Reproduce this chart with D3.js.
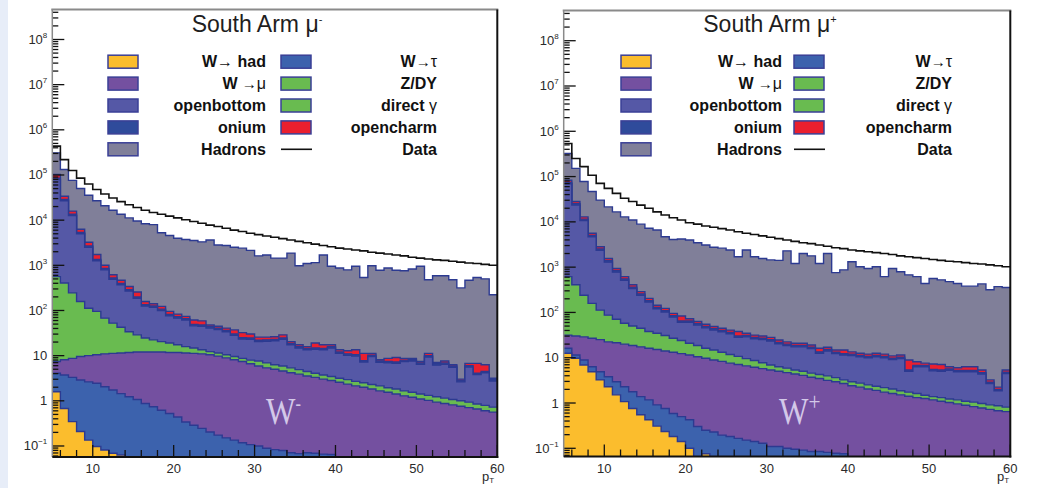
<!DOCTYPE html>
<html><head><meta charset="utf-8">
<script src="https://cdn.jsdelivr.net/npm/d3@7"></script>
<style>body{margin:0;background:#fff}svg{display:block}</style>
</head><body>
<svg id="chart" width="1054" height="488"></svg>
<script>
// lower edges of the 1 GeV pT bins
const binLow = [5,6,7,8,9,10,11,12,13,14,15,16,17,18,19,20,21,22,23,24,25,26,27,28,29,30,31,32,33,34,35,36,37,38,39,40,41,42,43,44,45,46,47,48,49,50,51,52,53,54,55,56,57,58,59];
const yTickExps = [-1,0,1,2,3,4,5,6,7,8];
const xTickLabels = [10,20,30,40,50,60];

// ---- South Arm mu- : log10 of the stacked (cumulative) histogram tops ----
const dataMinus = [5.64,5.34,5.10,4.93,4.80,4.68,4.58,4.49,4.41,4.34, 4.28,4.22,4.17,4.13,4.09,4.05,4.01,3.97,3.93,3.89, 3.86,3.82,3.78,3.75,3.71,3.68,3.65,3.62,3.59,3.56, 3.53,3.50,3.47,3.44,3.41,3.38,3.36,3.34,3.32,3.29, 3.27,3.25,3.23,3.21,3.18,3.16,3.14,3.12,3.11,3.09, 3.07,3.05,3.04,3.02,3.00];
const hadronsMinus = [5.49,5.12,4.88,4.70,4.55,4.43,4.32,4.22,4.13,4.05, 3.98,3.92,3.90,3.72,3.66,3.60,3.57,3.55,3.52,3.56, 3.45,3.44,3.40,3.38,3.33,3.21,3.23,3.16,3.16,3.27, 2.99,3.04,3.06,3.23,2.98,2.94,2.90,2.98,2.73,2.99, 2.89,2.94,2.89,2.88,2.92,2.98,2.68,2.77,2.77,2.68, 2.50,2.67,2.73,2.70,2.35];
const opencharmMinus = [5.01,4.53,4.20,3.80,3.51,3.24,3.00,2.79,2.67,2.53, 2.41,2.20,2.15,2.09,1.98,1.92,1.87,1.79,1.77,1.68, 1.65,1.61,1.57,1.51,1.48,1.41,1.41,1.42,1.46,1.31, 1.24,1.20,1.28,1.24,1.24,1.13,1.11,1.13,1.05,1.05, 0.91,0.94,0.96,0.94,0.94,0.87,1.05,0.85,0.88,0.80, 0.48,0.83,0.83,0.80,0.50];
const oniumMinus = [4.93,4.46,4.13,3.73,3.43,3.13,2.93,2.72,2.60,2.46, 2.30,2.13,2.10,2.03,1.91,1.86,1.82,1.69,1.68,1.64, 1.61,1.56,1.48,1.40,1.39,1.34,1.35,1.36,1.39,1.27, 1.20,1.16,1.17,1.16,1.20,1.08,1.04,1.02,0.89,1.01, 0.88,0.87,0.86,0.90,0.91,0.84,1.00,0.82,0.84,0.77, 0.45,0.78,0.61,0.65,0.47];
const openbottomMinus = [4.90,4.43,4.10,3.70,3.40,3.10,2.90,2.69,2.57,2.43, 2.27,2.10,2.07,2.00,1.88,1.83,1.79,1.66,1.65,1.61, 1.58,1.53,1.45,1.37,1.36,1.31,1.32,1.33,1.36,1.24, 1.17,1.13,1.14,1.13,1.17,1.05,1.01,0.99,0.86,0.98, 0.85,0.84,0.83,0.87,0.88,0.81,0.97,0.79,0.81,0.74, 0.42,0.75,0.58,0.62,0.44];
const directGammaMinus = [2.75,2.61,2.39,2.20,2.05,1.98,1.83,1.72,1.63,1.53, 1.46,1.39,1.35,1.31,1.28,1.24,1.20,1.17,1.13,1.09, 1.06,1.02,0.98,0.94,0.90,0.88,0.84,0.80,0.77,0.73, 0.69,0.65,0.61,0.57,0.54,0.50,0.47,0.43,0.40,0.36, 0.33,0.29,0.26,0.22,0.19,0.15,0.12,0.09,0.06,0.03, 0.00,-0.03,-0.07,-0.10,-0.14];
const zdyMinus = [0.91,0.95,0.98,1.02,1.04,1.06,1.08,1.09,1.10,1.11, 1.12,1.12,1.12,1.12,1.11,1.11,1.10,1.09,1.08,1.06, 1.03,0.99,0.95,0.91,0.86,0.81,0.77,0.74,0.70,0.66, 0.63,0.59,0.56,0.52,0.49,0.45,0.41,0.37,0.34,0.30, 0.26,0.23,0.19,0.15,0.12,0.08,0.05,0.01,-0.02,-0.05, -0.08,-0.11,-0.14,-0.18,-0.21];
const wmuMinus = [0.87,0.91,0.94,0.98,1.00,1.02,1.04,1.05,1.06,1.07, 1.08,1.08,1.08,1.08,1.07,1.07,1.06,1.05,1.04,1.02, 0.99,0.95,0.91,0.87,0.82,0.77,0.73,0.70,0.66,0.62, 0.59,0.55,0.52,0.48,0.45,0.41,0.37,0.33,0.30,0.26, 0.22,0.19,0.15,0.11,0.08,0.04,0.01,-0.03,-0.06,-0.09, -0.12,-0.15,-0.18,-0.22,-0.25];
const wtauMinus = [0.61,0.57,0.52,0.46,0.42,0.39,0.31,0.24,0.16,0.09, 0.03,-0.06,-0.13,-0.21,-0.28,-0.36,-0.47,-0.54,-0.61,-0.69, -0.76,-0.82,-0.87,-0.93,-0.97,-1.00,-1.05,-1.08,-1.10,-1.15, -1.17,-1.15,-1.16,-1.18,-1.19,-1.40,-1.40,-1.40,-1.40,-1.40, -1.40,-1.40,-1.40,-1.40,-1.40,-1.40,-1.40,-1.40,-1.40,-1.40, -1.40,-1.40,-1.40,-1.40,-1.40];
const whadMinus = [0.20,-0.17,-0.46,-0.68,-0.87,-1.01,-1.09,-1.16,-1.20,-2, -2,-2,-2,-2,-2,-2,-2,-2,-2,-2, -2,-2,-2,-2,-2,-2,-2,-2,-2,-2, -2,-2,-2,-2,-2,-2,-2,-2,-2,-2, -2,-2,-2,-2,-2,-2,-2,-2,-2,-2, -2,-2,-2,-2,-2];

// ---- South Arm mu+ ----
const dataPlus = [5.73,5.40,5.22,5.03,4.85,4.74,4.63,4.52,4.45,4.37, 4.30,4.22,4.15,4.09,4.04,3.98,3.95,3.91,3.88,3.85, 3.82,3.78,3.75,3.72,3.69,3.66,3.63,3.60,3.57,3.54, 3.52,3.49,3.46,3.43,3.41,3.38,3.36,3.34,3.32,3.30, 3.28,3.25,3.23,3.21,3.19,3.17,3.15,3.13,3.12,3.10, 3.08,3.07,3.05,3.03,3.01];
const hadronsPlus = [5.51,5.18,4.89,4.67,4.48,4.33,4.22,4.11,4.04,3.95, 3.86,3.82,3.67,3.61,3.62,3.60,3.54,3.49,3.44,3.42, 3.38,3.23,3.38,3.23,3.19,3.16,3.15,3.36,3.08,3.30, 3.25,3.08,3.30,2.88,2.94,3.12,3.01,2.97,3.01,2.79, 2.97,2.90,2.83,2.79,2.64,2.75,2.72,2.68,2.64,2.58, 2.58,2.63,2.50,2.57,2.55];
const opencharmPlus = [4.92,4.45,4.11,3.75,3.45,3.19,2.97,2.79,2.61,2.46, 2.31,2.16,2.09,1.98,1.92,1.86,1.80,1.74,1.69,1.65, 1.61,1.58,1.54,1.50,1.48,1.45,1.39,1.35,1.32,1.32, 1.28,1.21,1.23,1.17,1.17,1.13,1.10,1.08,1.10,1.08, 1.04,1.06,0.95,0.91,0.88,0.86,0.85,0.80,0.78,0.80, 0.80,0.73,0.51,0.35,0.73];
const oniumPlus = [4.87,4.40,4.06,3.70,3.40,3.14,2.92,2.74,2.56,2.41, 2.26,2.11,2.04,1.93,1.81,1.81,1.75,1.69,1.64,1.60, 1.56,1.48,1.49,1.45,1.43,1.40,1.34,1.30,1.27,1.27, 1.23,1.13,1.18,1.12,1.09,1.08,1.05,1.03,1.05,1.03, 0.99,1.01,0.73,0.83,0.83,0.74,0.73,0.75,0.72,0.72, 0.72,0.67,0.46,0.30,0.68];
const openbottomPlus = [4.84,4.37,4.03,3.67,3.37,3.11,2.89,2.71,2.53,2.38, 2.23,2.08,2.01,1.90,1.78,1.78,1.72,1.66,1.61,1.57, 1.53,1.45,1.46,1.42,1.40,1.37,1.31,1.27,1.24,1.24, 1.20,1.10,1.15,1.09,1.06,1.05,1.02,1.00,1.02,1.00, 0.96,0.98,0.70,0.80,0.80,0.71,0.70,0.72,0.69,0.69, 0.69,0.64,0.43,0.27,0.65];
const directGammaPlus = [2.79,2.61,2.38,2.20,2.05,1.94,1.85,1.76,1.70,1.65, 1.58,1.54,1.49,1.43,1.38,1.32,1.27,1.21,1.17,1.12, 1.07,1.03,0.98,0.94,0.89,0.84,0.80,0.77,0.73,0.70, 0.66,0.63,0.60,0.56,0.51,0.47,0.44,0.40,0.37,0.34, 0.31,0.27,0.24,0.21,0.17,0.14,0.12,0.09,0.07,0.04, 0.02,-0.01,-0.04,-0.06,-0.09];
const zdyPlus = [1.53,1.51,1.49,1.46,1.43,1.38,1.36,1.33,1.30,1.27, 1.24,1.21,1.18,1.15,1.12,1.09,1.05,1.02,0.98,0.95, 0.91,0.88,0.85,0.82,0.79,0.76,0.73,0.70,0.67,0.64, 0.60,0.57,0.53,0.50,0.46,0.41,0.38,0.34,0.31,0.27, 0.24,0.21,0.18,0.15,0.13,0.10,0.07,0.04,0.01,-0.02, -0.05,-0.08,-0.11,-0.14,-0.16];
const wmuPlus = [1.50,1.48,1.46,1.43,1.40,1.35,1.33,1.30,1.27,1.24, 1.21,1.18,1.15,1.12,1.09,1.06,1.02,0.99,0.95,0.92, 0.88,0.85,0.82,0.79,0.76,0.73,0.70,0.67,0.64,0.61, 0.57,0.54,0.50,0.47,0.43,0.38,0.35,0.31,0.28,0.24, 0.21,0.18,0.15,0.12,0.10,0.07,0.04,0.01,-0.02,-0.05, -0.08,-0.11,-0.14,-0.17,-0.19];
const wtauPlus = [1.21,1.06,0.95,0.80,0.69,0.58,0.47,0.36,0.25,0.14, 0.07,-0.04,-0.12,-0.23,-0.30,-0.37,-0.52,-0.60,-0.64,-0.71, -0.74,-0.78,-0.82,-0.85,-0.89,-0.96,-0.96,-1.00,-1.02,-1.04, -1.07,-1.07,-1.09,-1.11,-1.12,-1.40,-1.40,-1.40,-1.40,-1.40, -1.40,-1.40,-1.40,-1.40,-1.40,-1.40,-1.40,-1.40,-1.40,-1.40, -1.40,-1.40,-1.40,-1.40,-1.40];
const whadPlus = [1.10,0.99,0.84,0.69,0.51,0.36,0.18,0.03,-0.12,-0.26, -0.37,-0.51,-0.63,-0.74,-0.85,-1.00,-1.40,-1.12,-2,-2, -2,-2,-2,-2,-2,-2,-2,-2,-2,-2, -2,-2,-2,-2,-2,-2,-2,-2,-2,-2, -2,-2,-2,-2,-2,-2,-2,-2,-2,-2, -2,-2,-2,-2,-2];

// stacking order (bottom to top)
const layers = [
  {key:'whad', color:'#fbbd2d', outline:true},
  {key:'wtau', color:'#3c62ad', outline:true},
  {key:'wmu', color:'#7450a0', outline:true},
  {key:'zdy', color:'#69bb50', outline:false},
  {key:'dirgam', color:'#69bb50', outline:true},
  {key:'openbottom', color:'#5558a6', outline:true},
  {key:'onium', color:'#2f4b9b', outline:true},
  {key:'opencharm', color:'#ea1f2e', outline:true},
  {key:'hadrons', color:'#807f99', outline:true}
];
const legendCol1 = [
  {parts:[['W',1],['\u2192',0,16],[' had',1]], type:'box', color:'#fbbd2d'},
  {parts:[['W',1],[' \u2192',0,15],['\u03bc',0]], type:'box', color:'#7450a0'},
  {parts:[['openbottom',1]], type:'box', color:'#5558a6'},
  {parts:[['onium',1]], type:'box', color:'#2f4b9b'},
  {parts:[['Hadrons',1]], type:'box', color:'#807f99'}
];
const legendCol2 = [
  {parts:[['W',1],['\u2192',0,15],['\u03c4',0]], type:'box', color:'#3c62ad'},
  {parts:[['Z/DY',1]], type:'box', color:'#69bb50'},
  {parts:[['direct ',1],['\u03b3',0]], type:'box', color:'#69bb50'},
  {parts:[['opencharm',1]], type:'box', color:'#ea1f2e'},
  {parts:[['Data',1]], type:'line'}
];

const svg = d3.select('#chart');
svg.append('rect').attr('width',1054).attr('height',488).attr('fill','#ffffff');
svg.append('rect').attr('x',0).attr('y',0).attr('width',8).attr('height',488).attr('fill','#e7edf8');

function drawPanel(cfg) {
  const {id,x0,x1,y0,y1,logMin,logMax} = cfg;
  const x = d3.scaleLinear().domain([5,60]).range([x0,x1]);
  const y = d3.scaleLog().domain([Math.pow(10,logMin), Math.pow(10,logMax)]).range([y1,y0]);
  const clipId = 'clip'+id;
  svg.append('clipPath').attr('id',clipId).append('rect')
    .attr('x',x0).attr('y',y0).attr('width',x1-x0).attr('height',y1-y0);
  const plot = svg.append('g').attr('clip-path',`url(#${clipId})`);
  const yy = v => Math.min(y1+6, y(v));
  const pts = arr => {
    const p = binLow.map((b,i)=>[b, Math.pow(10, arr[i])]);
    p.push([60, Math.pow(10, arr[arr.length-1])]);
    return p;
  };
  const area = d3.area().curve(d3.curveStepAfter).x(d=>x(d[0])).y0(y1+6).y1(d=>yy(d[1]));
  const line = d3.line().curve(d3.curveStepAfter).x(d=>x(d[0])).y(d=>yy(d[1]));
  layers.slice().reverse().forEach(L => {
    const p = pts(cfg.stack[L.key]);
    plot.append('path').attr('d', area(p)).attr('fill', L.color);
    if (L.outline) plot.append('path').attr('d', line(p)).attr('fill','none')
      .attr('stroke','#2c3a91').attr('stroke-width',1.4);
  });
  plot.append('path').attr('d', line(pts(cfg.data))).attr('fill','none')
    .attr('stroke','#111').attr('stroke-width',1.6);

  // ticks
  const tk = svg.append('g').attr('stroke','#111').attr('stroke-width',1.3);
  yTickExps.forEach(e => {
    const yv = y(Math.pow(10,e));
    tk.append('line').attr('x1',x0).attr('x2',x0+12).attr('y1',yv).attr('y2',yv);
  });
  for (let e = Math.floor(logMin); e < Math.ceil(logMax); e++) {
    [2,3,4,5,6,7,8,9].forEach(m => {
      const v = m*Math.pow(10,e);
      if (Math.log10(v) <= logMin || Math.log10(v) >= logMax) return;
      const yv = y(v);
      tk.append('line').attr('x1',x0).attr('x2',x0+6).attr('y1',yv).attr('y2',yv);
    });
  }
  xTickLabels.forEach(t => {
    tk.append('line').attr('x1',x(t)).attr('x2',x(t)).attr('y1',y1).attr('y2',y1-12);
  });
  for (let t = 6; t < 60; t += 2) {
    if (t % 10 === 0) continue;
    tk.append('line').attr('x1',x(t)).attr('x2',x(t)).attr('y1',y1).attr('y2',y1-7);
  }

  // frame
  svg.append('line').attr('x1',x0-1).attr('x2',x1+1).attr('y1',y0).attr('y2',y0).attr('stroke','#8a8a8a').attr('stroke-width',2);
  svg.append('line').attr('x1',x0).attr('x2',x0).attr('y1',y0).attr('y2',y1).attr('stroke','#8a8a8a').attr('stroke-width',1.5);
  svg.append('line').attr('x1',x1).attr('x2',x1).attr('y1',y0).attr('y2',y1+1).attr('stroke','#111').attr('stroke-width',2);
  svg.append('line').attr('x1',x0).attr('x2',x1+1).attr('y1',y1).attr('y2',y1).attr('stroke','#111').attr('stroke-width',2);

  // tick labels
  const lab = svg.append('g').attr('font-family','"Liberation Sans", Arial, sans-serif').attr('fill','#2a2a2a');
  yTickExps.forEach(e => {
    const yv = y(Math.pow(10,e));
    const t = lab.append('text').attr('x',x0-5).attr('y',yv+4.5).attr('text-anchor','end').attr('font-size',13);
    if (e === 0) t.text('1');
    else if (e === 1) t.text('10');
    else {
      t.append('tspan').text('10');
      t.append('tspan').attr('dy',-6).attr('font-size',8).text(String(e).replace('-','\u2212'));
    }
  });
  xTickLabels.forEach(v => {
    lab.append('text').attr('x',x(v)).attr('y',y1+16).attr('text-anchor','middle').attr('font-size',13).text(v);
  });
  const pt = lab.append('text').attr('x',cfg.pX).attr('y',481).attr('font-size',13);
  pt.append('tspan').text('p');
  pt.append('tspan').attr('dy',2).attr('font-size',8).text('T');

  // title
  const tt = svg.append('text').attr('x',cfg.titleX).attr('y',32).attr('text-anchor','middle')
    .attr('font-family','"Liberation Sans", Arial, sans-serif').attr('font-size',23).attr('fill','#1e1e1e');
  tt.append('tspan').text('South Arm \u03bc');
  tt.append('tspan').attr('dy',-9).attr('font-size',11).text(cfg.charge);

  // legend
  const lg = svg.append('g').attr('font-family','"Liberation Sans", Arial, sans-serif').attr('fill','#111');
  const rows = [61.7, 83.6, 105.5, 127.4, 149.3];
  const drawCol = (entries, bx, lx) => {
    entries.forEach((en, i) => {
      const cy = rows[i];
      if (en.type === 'box') {
        lg.append('rect').attr('x',bx).attr('y',cy-6.5).attr('width',30).attr('height',13)
          .attr('fill',en.color).attr('stroke','#3a3f96').attr('stroke-width',1.5);
      } else {
        lg.append('line').attr('x1',bx).attr('x2',bx+31).attr('y1',cy).attr('y2',cy)
          .attr('stroke','#111').attr('stroke-width',1.6);
      }
      const t = lg.append('text').attr('x',lx).attr('y',cy+5.5).attr('text-anchor','end').attr('font-size',16);
      en.parts.forEach(p => {
        const s = t.append('tspan').text(p[0]).attr('font-weight', p[1] ? 'bold' : 'normal');
        if (p[2]) s.attr('font-size', p[2]);
      });
    });
  };
  drawCol(legendCol1, cfg.box1, cfg.lab1);
  drawCol(legendCol2, cfg.box2, cfg.lab2);

  // W annotation
  const wg = svg.append('g').attr('transform',`translate(${cfg.wX},424) scale(0.82,1)`);
  const wt = wg.append('text').attr('font-family','"Liberation Serif", "DejaVu Serif", serif')
    .attr('font-size',38).attr('fill','#d3c8e8');
  wt.append('tspan').text('W');
  wt.append('tspan').attr('dy',-14).attr('font-size',cfg.charge==='+'?26:20).text(cfg.charge);
}

drawPanel({id:'m', x0:52.3, x1:497.3, y0:9.5, y1:457, logMin:-1.244, logMax:8.664,
  stack:{whad:whadMinus, wtau:wtauMinus, wmu:wmuMinus, zdy:zdyMinus, dirgam:directGammaMinus,
         openbottom:openbottomMinus, onium:oniumMinus, opencharm:opencharmMinus, hadrons:hadronsMinus},
  data:dataMinus, titleX:257, charge:'-', box1:108, lab1:266, box2:281, lab2:437, wX:266, pX:482});
drawPanel({id:'p', x0:563.7, x1:1010.3, y0:10.5, y1:456.5, logMin:-1.181, logMax:8.667,
  stack:{whad:whadPlus, wtau:wtauPlus, wmu:wmuPlus, zdy:zdyPlus, dirgam:directGammaPlus,
         openbottom:openbottomPlus, onium:oniumPlus, opencharm:opencharmPlus, hadrons:hadronsPlus},
  data:dataPlus, titleX:770, charge:'+', box1:621, lab1:782, box2:794, lab2:952, wX:779, pX:997});
</script>
</body></html>
